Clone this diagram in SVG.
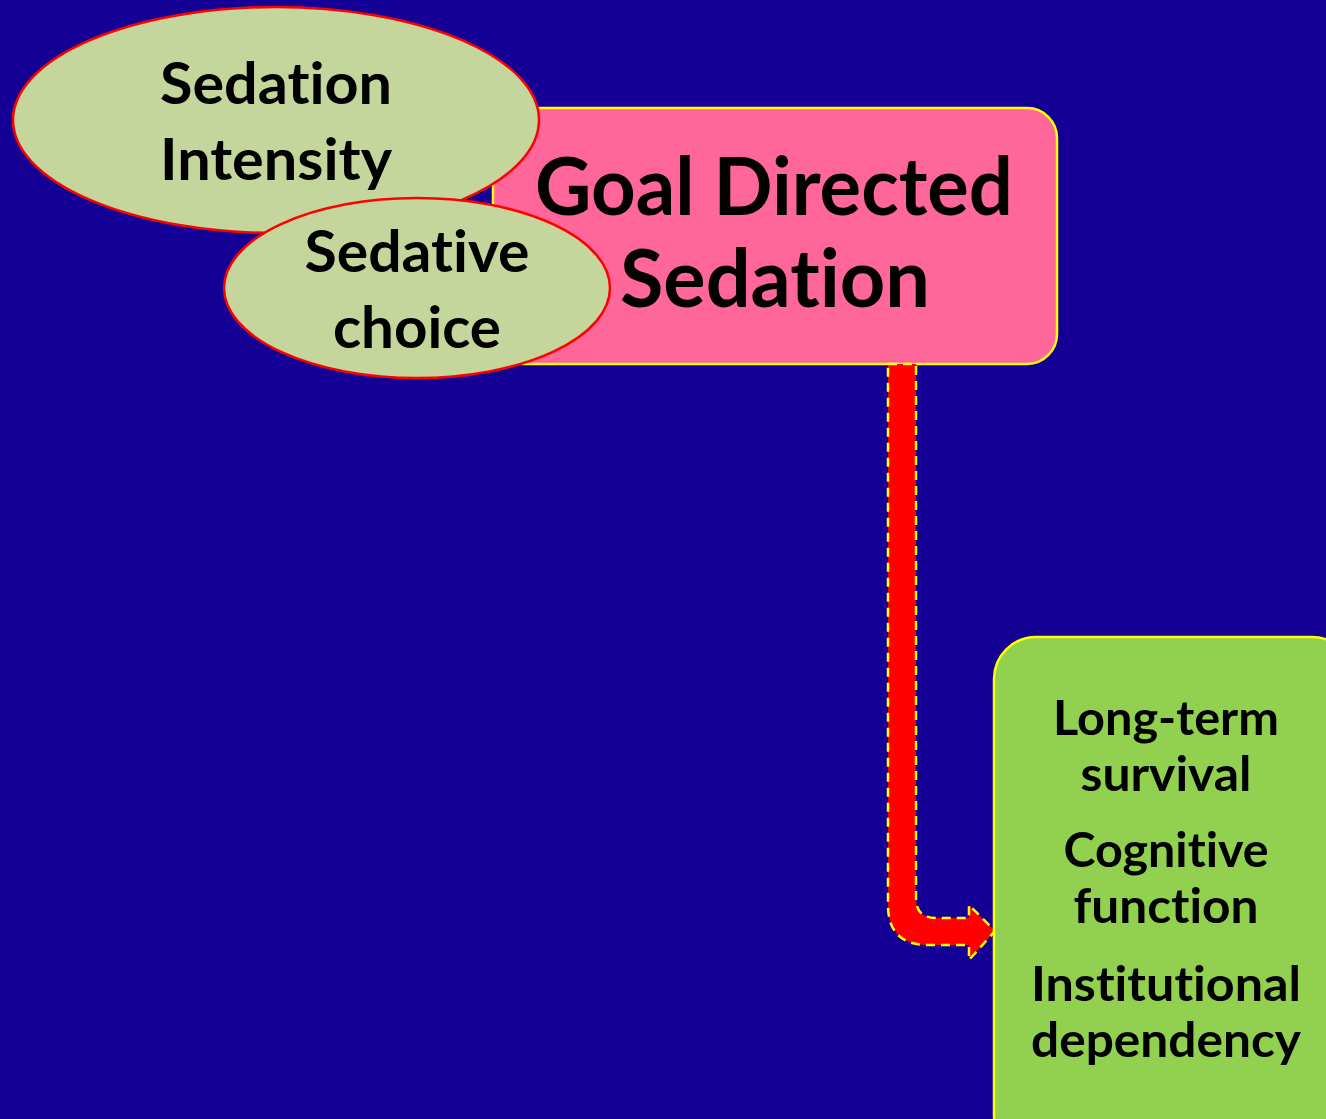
<svg xmlns="http://www.w3.org/2000/svg" width="1326" height="1119" viewBox="0 0 1326 1119">
<style>
.t{font-family:Lato,"Open Sans","Liberation Sans",sans-serif;font-weight:bold;fill:#000;text-anchor:middle;font-variant-ligatures:none;font-feature-settings:"liga" 0,"clig" 0}
.ell{fill:#C4D69C;stroke:#FF0000;stroke-width:2.5}
</style>
<rect x="0" y="0" width="1326" height="1119" fill="#140094"/>
<g id="goal">
<rect x="493" y="108" width="564" height="256" rx="30" ry="30" fill="#FF6699" stroke="#FFFF00" stroke-width="2.5"/>
<text class="t" x="774" y="215" font-size="80" textLength="478" lengthAdjust="spacingAndGlyphs">Goal Directed</text>
<text class="t" x="775" y="307" font-size="80" textLength="310" lengthAdjust="spacingAndGlyphs">Sedation</text>
</g>
<g id="intensity">
<ellipse class="ell" cx="276" cy="120" rx="263" ry="113"/>
<text class="t" x="276" y="104" font-size="58" textLength="232" lengthAdjust="spacingAndGlyphs">Sedation</text>
<text class="t" x="276" y="180" font-size="58" textLength="232" lengthAdjust="spacingAndGlyphs">Intensity</text>
</g>
<g id="choice">
<ellipse class="ell" cx="417" cy="288" rx="193" ry="90"/>
<text class="t" x="417" y="272" font-size="58" textLength="225" lengthAdjust="spacingAndGlyphs">Sedative</text>
<text class="t" x="417" y="348" font-size="58" textLength="168" lengthAdjust="spacingAndGlyphs">choice</text>
</g>
<g id="connectors">
<path d="M888,364 L916,364 L916,898 Q916,918 936,918 L969,918 L969,905 L995,931 L969,960 L969,945 L928,945 Q888,945 888,905 Z" fill="#FF0000" stroke="#FFFF00" stroke-width="2.5" stroke-dasharray="9,6"/>
</g>
<g id="outcomes">
<rect x="994" y="637" width="360" height="520" rx="42" ry="42" fill="#92D050" stroke="#FFFF00" stroke-width="2.5"/>
<text class="t" x="1166" y="735" font-size="48" textLength="226" lengthAdjust="spacingAndGlyphs">Long-term</text>
<text class="t" x="1166" y="791" font-size="48" textLength="171" lengthAdjust="spacingAndGlyphs">survival</text>
<text class="t" x="1166" y="867" font-size="48" textLength="205" lengthAdjust="spacingAndGlyphs">Cognitive</text>
<text class="t" x="1166" y="923" font-size="48" textLength="185" lengthAdjust="spacingAndGlyphs">function</text>
<text class="t" x="1166" y="1001" font-size="48" textLength="270" lengthAdjust="spacingAndGlyphs">Institutional</text>
<text class="t" x="1166" y="1057" font-size="48" textLength="270" lengthAdjust="spacingAndGlyphs">dependency</text>
</g>
</svg>
